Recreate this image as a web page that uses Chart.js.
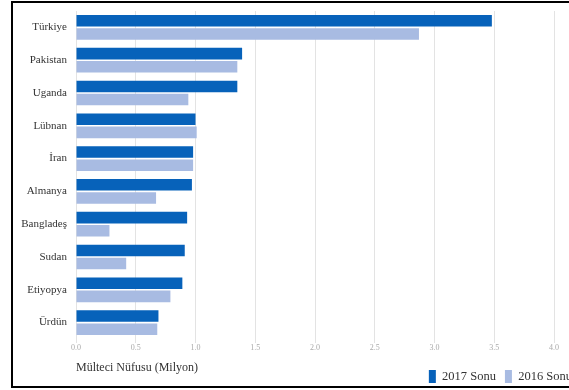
<!DOCTYPE html>
<html>
<head>
<meta charset="utf-8">
<script src="https://cdn.jsdelivr.net/npm/chart.js@4/dist/chart.umd.min.js"></script>
<style>
  html, body { margin: 0; padding: 0; background: #fff; }
  #wrap { position: relative; width: 569px; height: 390px; overflow: hidden; }
  #frame { position: absolute; left: 11px; top: 1px; width: 570px; height: 387px; border: 2px solid #000; box-sizing: border-box; pointer-events: none; }
  canvas { position: absolute; left: 0; top: 0; }
</style>
</head>
<body>
<div id="wrap">
  <canvas id="c" width="569" height="390"></canvas>
  <div id="frame"></div>
</div>
<script>
const categories = ["Türkiye", "Pakistan", "Uganda", "Lübnan", "İran", "Almanya", "Bangladeş", "Sudan", "Etiyopya", "Ürdün"];
const values2017 = [3.48, 1.39, 1.35, 1.00, 0.98, 0.97, 0.93, 0.91, 0.89, 0.69];
const values2016 = [2.87, 1.35, 0.94, 1.01, 0.98, 0.67, 0.28, 0.42, 0.79, 0.68];
const seriesNames = ["2017 Sonu", "2016 Sonu"];
const axisTitle = "Mülteci Nüfusu (Milyon)";

const serif = "'Liberation Serif', 'DejaVu Serif', serif";

new Chart(document.getElementById('c'), {
  type: 'bar',
  data: {
    labels: categories,
    datasets: [
      { label: seriesNames[0], data: values2017, backgroundColor: '#0762BA', borderWidth: 0,
        categoryPercentage: 0.8, barPercentage: 0.88 },
      { label: seriesNames[1], data: values2016, backgroundColor: '#A8BBE2', borderWidth: 0,
        categoryPercentage: 0.8, barPercentage: 0.88 }
    ]
  },
  options: {
    indexAxis: 'y',
    responsive: false,
    animation: false,
    layout: { padding: { left: 14, right: -12, top: 11, bottom: -3 } },
    scales: {
      x: {
        min: 0, max: 4,
        ticks: { stepSize: 0.5, color: '#aaa', font: { family: serif, size: 8 },
                 callback: v => v.toFixed(1), padding: 0 },
        grid: { color: '#e3e3e3', lineWidth: 1, tickLength: 4, drawTicks: true },
        border: { display: false },
        title: { display: true, text: axisTitle, align: 'start', color: '#333',
                 font: { family: serif, size: 12 }, padding: { top: 8, bottom: -14 } },
        afterFit: s => { s.paddingRight = 15; }
      },
      y: {
        ticks: { color: '#333', font: { family: serif, size: 11 }, padding: 1 },
        grid: { display: false },
        border: { display: false },
        afterFit: s => { s.width = 62; }
      }
    },
    plugins: {
      legend: {
        position: 'bottom', align: 'end',
        labels: { boxWidth: 7, boxHeight: 13, color: '#333', padding: 9,
                  font: { family: serif, size: 12.5 } }
      },
      tooltip: { enabled: false }
    }
  }
});
</script>
</body>
</html>
